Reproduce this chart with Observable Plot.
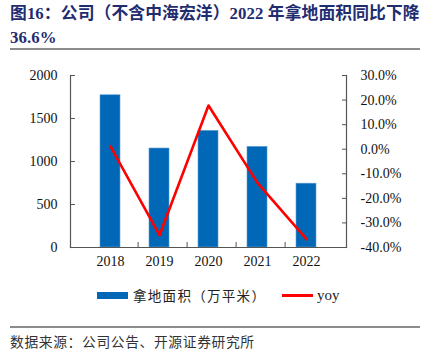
<!DOCTYPE html>
<html><head><meta charset="utf-8">
<script src="https://cdn.jsdelivr.net/npm/d3@7"></script>
<script src="https://cdn.jsdelivr.net/npm/@observablehq/plot@0.6"></script>
<style>
html,body{margin:0;padding:0;background:#fff;}
#wrap{position:relative;width:423px;height:360px;overflow:hidden;font-family:"Liberation Serif","Noto Sans CJK SC",serif;}
#title{position:absolute;left:10px;top:2px;width:413px;font-weight:bold;font-size:16.8px;line-height:24px;color:#1f2d70;font-family:"Liberation Serif","Noto Sans CJK SC",serif;letter-spacing:0.1px;}
.hr{position:absolute;left:10px;width:410px;height:0;border-top:2px solid #8c8c8c;}
#chart{position:absolute;left:0;top:55px;}
.leg{position:absolute;font-size:14px;color:#222;}
#caption{position:absolute;left:10px;top:331px;font-size:13.8px;color:#333;font-family:"Noto Sans CJK SC",sans-serif;letter-spacing:0.6px;}
</style></head>
<body><div id="wrap">
<div id="title">图16：公司（不含中海宏洋）2022 年拿地面积同比下降 36.6%</div>
<div class="hr" style="top:48px"></div>
<div id="chart"></div>
<div class="leg" style="left:97px;top:291.5px;width:31px;height:7px;background:#0068b7"></div>
<div class="leg" style="left:133px;top:285px;font-family:'Noto Sans CJK SC',sans-serif;font-size:13.5px;line-height:20px;letter-spacing:1.3px">拿地面积（万平米）</div>
<div class="leg" style="left:282px;top:294px;width:31px;height:2.5px;background:#ff0000"></div>
<div class="leg" style="left:317px;top:285px;line-height:20px;font-family:'Liberation Serif',serif;font-size:15px">yoy</div>
<div class="hr" style="top:326px"></div>
<div id="caption">数据来源：公司公告、开源证券研究所</div>
</div>
<script>
const years = ["2018","2019","2020","2021","2022"];
const area = [1770, 1151, 1356, 1170, 742];
const yoy = [1.2, -35.0, 17.8, -13.7, -36.6];
const leftTicks = [0, 500, 1000, 1500, 2000];
const rightTicks = [-40, -30, -20, -10, 0, 10, 20, 30];

const yMax = 2000, rMin = -40, rMax = 30;
const toLeft = p => (p - rMin) / (rMax - rMin) * yMax;
const toRight = v => v / yMax * (rMax - rMin) + rMin;

const bars = years.map((y, i) => ({year: y, value: area[i]}));
const line = years.map((y, i) => ({year: y, v: toLeft(yoy[i])}));

const W = 423, H = 225, mL = 70, mR = 77, mT = 20, mB = 33;
const step = (W - mL - mR) / years.length;
const axisColor = "#555";

const chart = Plot.plot({
  width: W, height: H,
  marginLeft: mL, marginRight: mR, marginTop: mT, marginBottom: mB,
  style: {fontFamily: "'Liberation Serif', serif", fontSize: "14px", color: "#111", background: "transparent"},
  x: {domain: years, padding: 0.6, label: null},
  y: {domain: [0, yMax], label: null},
  marks: [
    Plot.barY(bars, {x: "year", y: "value", fill: "#0068b7", stroke: "#5b9bd5", strokeWidth: 0.6}),
    Plot.line(line, {x: "year", y: "v", stroke: "#ff0000", strokeWidth: 2.6}),
    Plot.frame({anchor: "left", stroke: axisColor, strokeWidth: 1.2}),
    Plot.frame({anchor: "right", stroke: axisColor, strokeWidth: 1.2}),
    Plot.frame({anchor: "bottom", stroke: axisColor, strokeWidth: 1.2}),
    Plot.axisY({anchor: "left", ticks: leftTicks, tickSize: 5, dx: 5, text: null, stroke: axisColor}),
    Plot.axisY({anchor: "left", ticks: leftTicks, tickSize: 0, tickPadding: 13, tickFormat: d => String(d), label: null}),
    Plot.axisY({anchor: "right", ticks: rightTicks.map(toLeft), tickSize: 5, dx: -5, text: null, stroke: axisColor}),
    Plot.axisY({anchor: "right", ticks: rightTicks.map(toLeft), tickSize: 0, tickPadding: 14,
      tickFormat: d => Math.round(toRight(d)).toFixed(1) + "%", label: null}),
    Plot.axisX({anchor: "bottom", ticks: years.slice(0, 4), tickSize: 5, dy: -5, dx: step / 2, text: null, stroke: axisColor}),
    Plot.axisX({anchor: "bottom", tickSize: 0, tickPadding: 9, label: null})
  ]
});
document.getElementById("chart").appendChild(chart);
</script>
</body></html>
